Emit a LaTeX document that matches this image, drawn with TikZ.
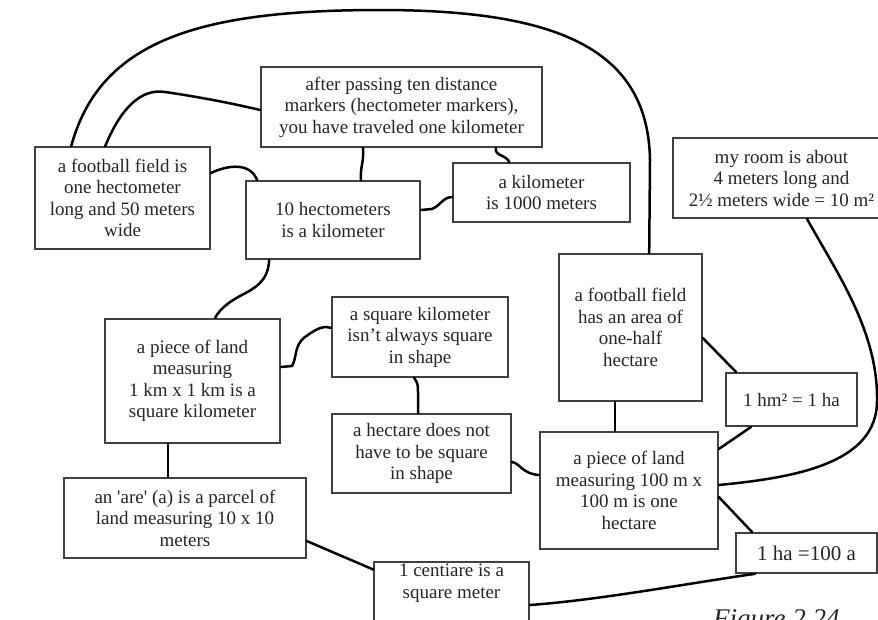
\documentclass[tikz,border=0pt]{standalone}
\usepackage{fontspec}
\setmainfont{Liberation Serif}
\newcommand\boxfont{\fontsize{19}{21.5}\selectfont}
\newcommand\bigboxfont{\fontsize{21}{24}\selectfont}
\newcommand\captfont{\fontsize{27}{30}\selectfont\itshape}
\tikzset{
  box/.style={draw=black!75, line width=1.6pt, align=center, inner sep=0pt,
              font=\boxfont, text=black!85, rectangle},
  link/.style={line width=2.5pt, black, line cap=round, line join=round}
}
\begin{document}
\begin{tikzpicture}[x=1pt,y=-1pt]
\useasboundingbox (0,0) rectangle (878,619);
\fill[white] (0,0) rectangle (878,619);
\clip (0,0) rectangle (878,619);

% nodes
\node[box, minimum width=281pt, minimum height=80pt] (n1) at (401.5,107)
  {after passing ten distance\\markers (hectometer markers),\\you have traveled one kilometer};
\node[box, minimum width=175pt, minimum height=102pt] (n2) at (122.5,198)
  {a football field is\\one hectometer\\long and 50 meters\\wide};
\node[box, minimum width=174pt, minimum height=78pt] (n3) at (333,220)
  {10 hectometers\\is a kilometer};
\node[box, minimum width=177pt, minimum height=59pt] (n4) at (541.5,192.5)
  {a kilometer\\is 1000 meters};
\node[box, minimum width=217pt, minimum height=80pt] (n5) at (781.5,178)
  {my room is about\\4 meters long and\\2½ meters wide = 10 m²};
\node[box, minimum width=143pt, minimum height=147pt] (n6) at (630.5,327.5)
  {a football field\\has an area of\\one-half\\hectare};
\node[box, minimum width=131pt, minimum height=53pt] (n7) at (791.5,399.5)
  {1 hm² = 1 ha};
\node[box, minimum width=178pt, minimum height=117pt] (n8) at (629,490.5)
  {a piece of land\\measuring 100 m x\\100 m is one\\hectare};
\node[box, minimum width=141pt, minimum height=40pt, font=\bigboxfont] (n9) at (806.5,553)
  {1 ha =100 a};
\node[box, minimum width=175pt, minimum height=124pt] (n10) at (192.5,381)
  {a piece of land\\measuring\\1 km x 1 km is a\\square kilometer};
\node[box, minimum width=176pt, minimum height=80pt] (n11) at (420,337)
  {a square kilometer\\isn’t always square\\in shape};
\node[box, minimum width=179pt, minimum height=79pt] (n12) at (421.5,453.5)
  {a hectare does not\\have to be square\\in shape};
\node[box, minimum width=242pt, minimum height=80pt] (n13) at (185,518)
  {an \textquotesingle are\textquotesingle{} (a) is a parcel of\\land measuring 10 x 10\\meters};
\node[box, minimum width=155pt, minimum height=66pt] (n14) at (451.5,595)
  {1 centiare is a\\square meter\\\strut};
\node[anchor=base west, inner sep=0pt, font=\captfont, text=black!85] (cap) at (713,627)
  {Figure 2.24};

% connectors
\draw[link] ([xshift=37pt]n2.north west) .. controls (100,40) and (200,10) .. (380,10)
  .. controls (560,10) and (648,50) .. (650,160) -- ([xshift=91pt]n6.north west);
\draw[link] ([xshift=71pt]n2.north west) .. controls (120,110) and (140,88) .. (165,92)
  .. controls (200,97) and (235,104) .. ([yshift=-3pt]n1.west);
\draw[link] ([yshift=25pt]n2.east) .. controls (228,165) and (250,162) .. ([xshift=12pt]n3.north west);
\draw[link] ([xshift=-38.5pt]n1.south) .. controls (364,165) and (360,165) .. ([xshift=28pt]n3.north);
\draw[link] ([xshift=-47pt]n1.south east) .. controls (494,156) and (507,155) .. ([xshift=57pt]n4.north west);
\draw[link] ([yshift=10pt]n3.east) -- (432,209) .. controls (440,206) and (443,197) .. ([yshift=-4.5pt]n4.west);
\draw[link] ([xshift=24pt]n3.south west) .. controls (268,282) and (255,288) .. (240,296)
  .. controls (225,304) and (218,312) .. ([xshift=22.5pt]n10.north);
\draw[link] ([yshift=14pt]n10.east) -- (292,366) .. controls (297,358) and (294,345) .. (305,337)
  .. controls (315,330) and (322,325) .. ([yshift=9pt]n11.west);
\draw[link] ([xshift=-6pt]n11.south) .. controls (418,383) and (418,386) .. (418,392) -- ([xshift=-3.5pt]n12.north);
\draw[link] ([xshift=-24.5pt]n10.south) -- ([xshift=-17pt]n13.north);
\draw[link] ([yshift=-23pt]n13.east) -- ([yshift=25.5pt]n14.west);
\draw[link] ([yshift=-8.5pt]n12.east) .. controls (520,463) and (522,474) .. ([yshift=15.5pt]n8.west);
\draw[link] ([xshift=-15.5pt]n6.south) -- ([xshift=-14pt]n8.north);
\draw[link] ([yshift=-10.5pt]n6.east) -- ([xshift=11pt]n7.north west);
\draw[link] ([xshift=26pt]n7.south west) -- ([yshift=41.5pt]n8.east);
\draw[link] ([yshift=5.5pt]n8.east) .. controls (790,478) and (878,465) .. (877,400)
  .. controls (878,330) and (835,270) .. ([xshift=25.5pt]n5.south);
\draw[link] ([yshift=-6.5pt]n8.east) -- ([xshift=17pt]n9.north west);
\draw[link] ([yshift=-10pt]n14.east) .. controls (600,600) and (690,583) .. ([xshift=20pt]n9.south west);
\end{tikzpicture}
\end{document}
